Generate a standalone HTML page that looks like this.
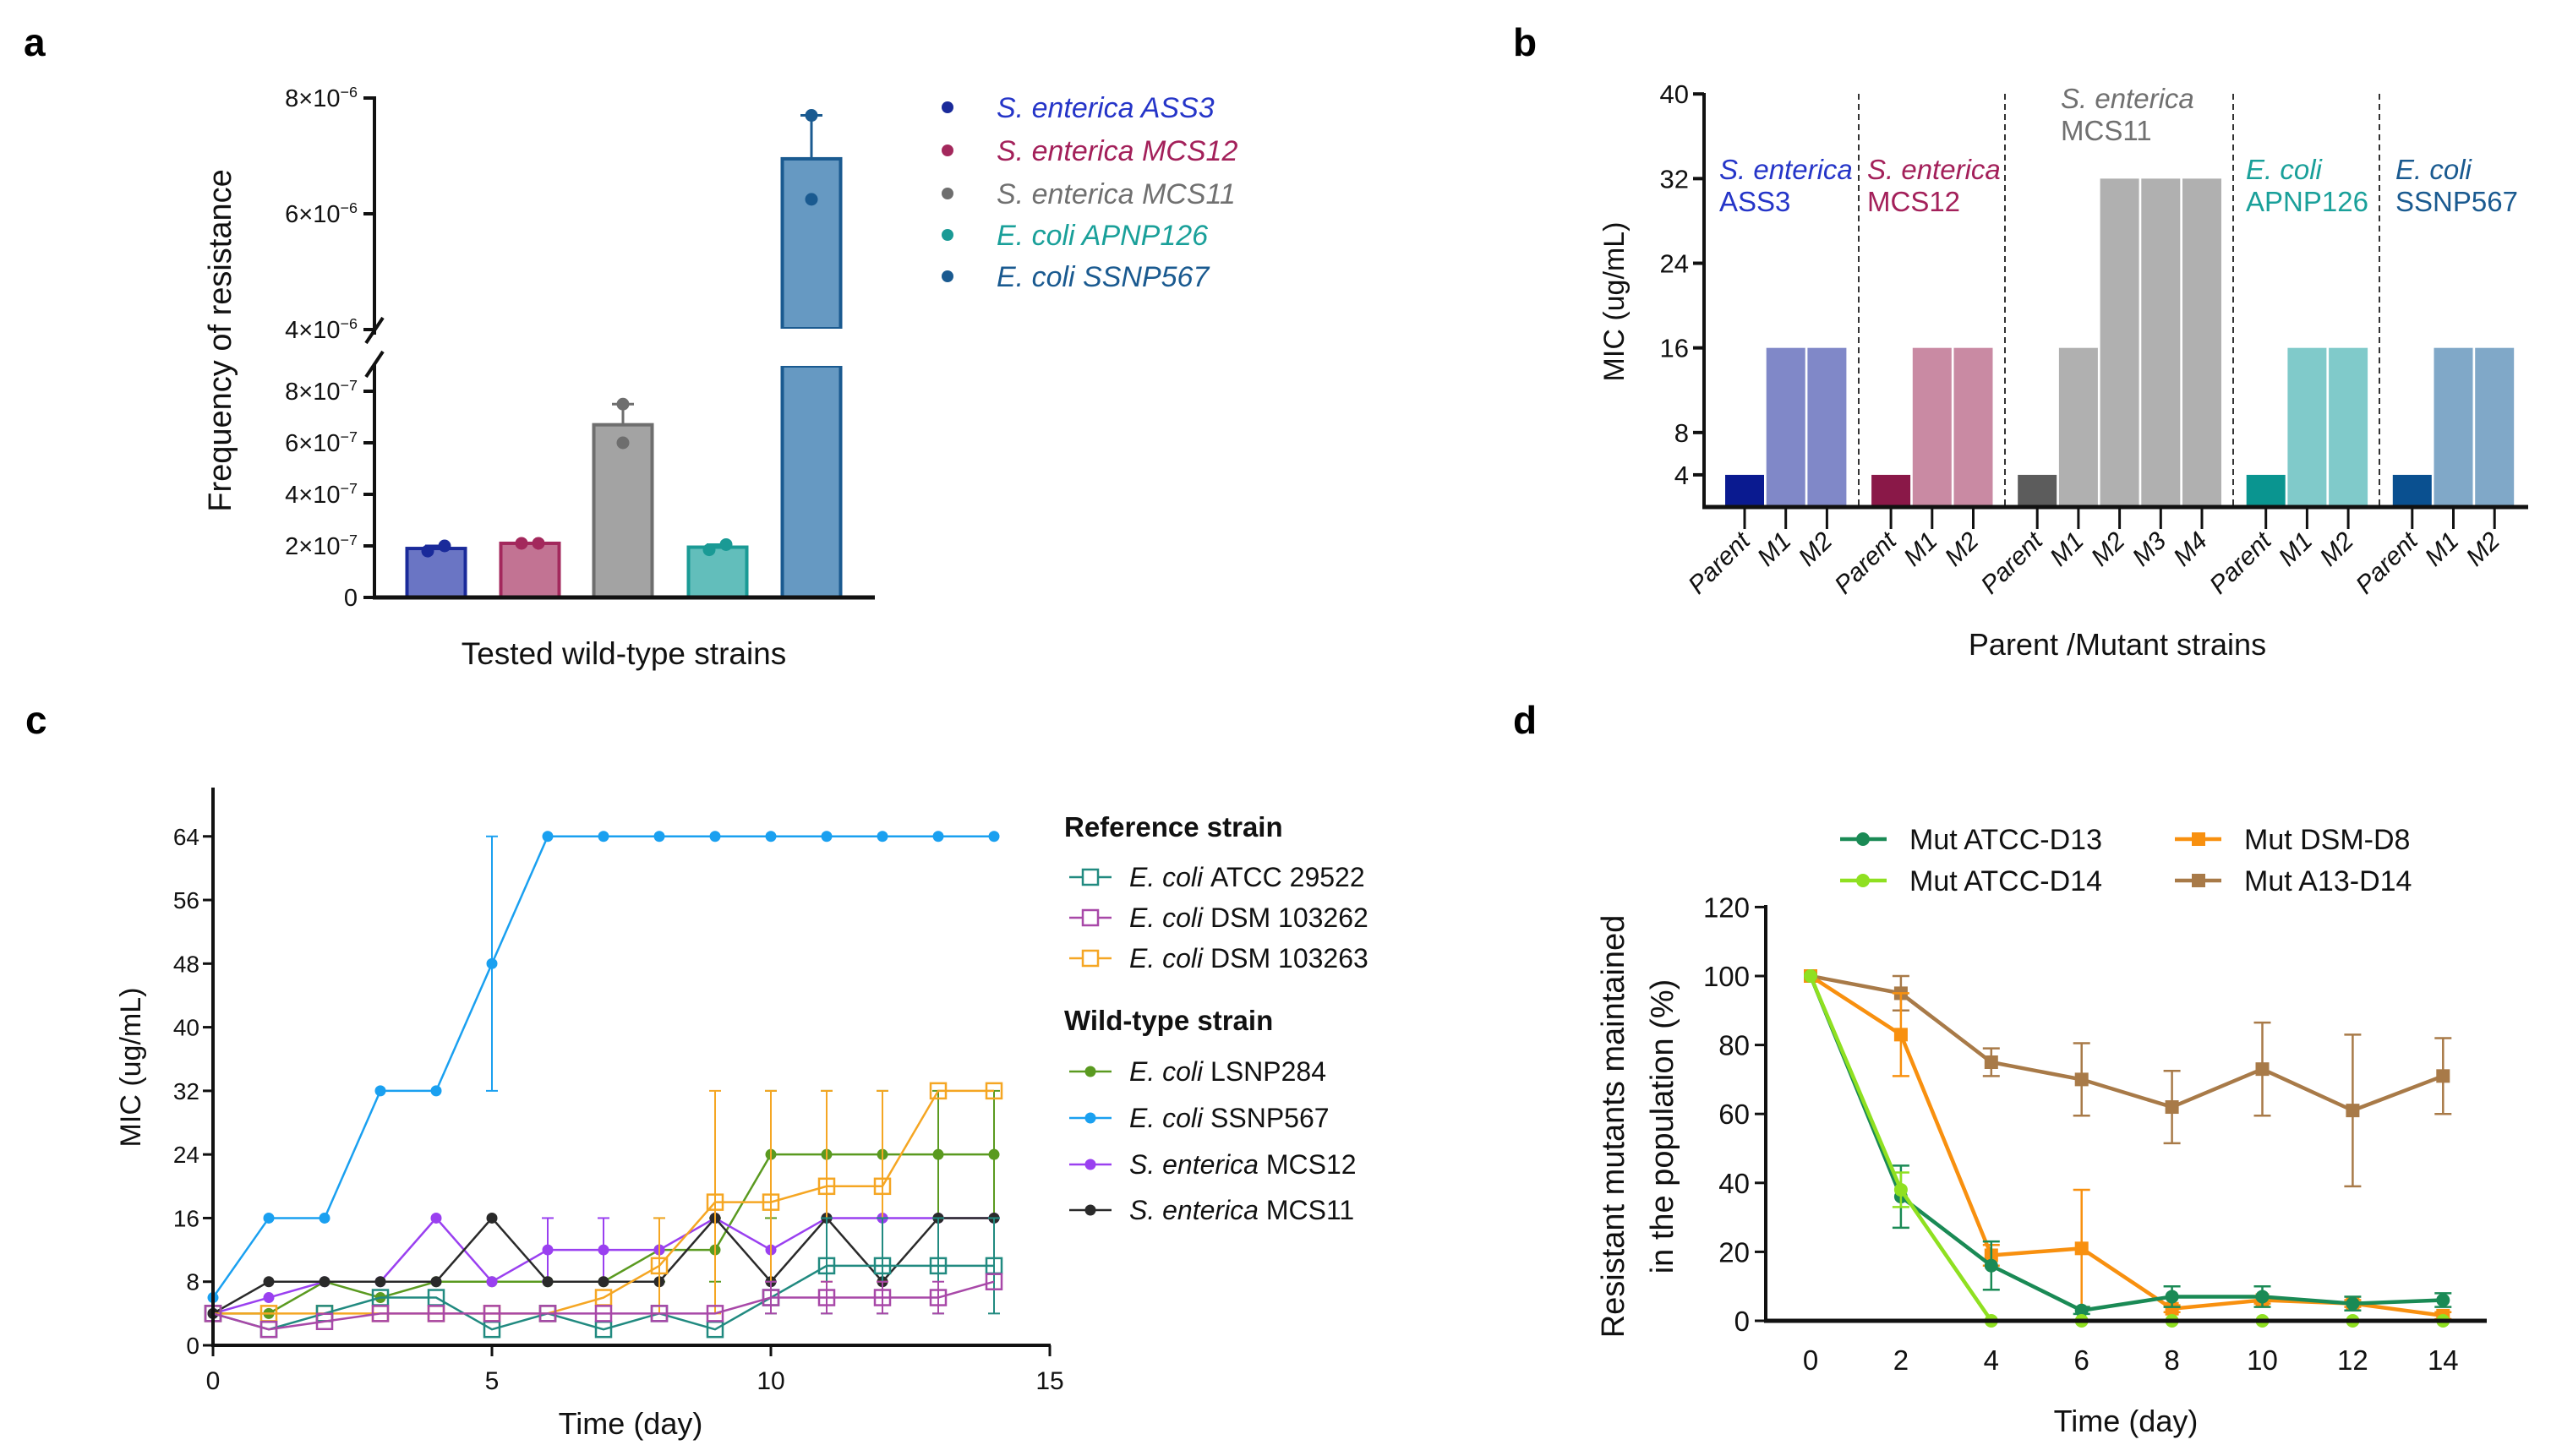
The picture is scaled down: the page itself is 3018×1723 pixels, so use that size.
<!DOCTYPE html>
<html><head><meta charset="utf-8"><style>
html,body{margin:0;padding:0;background:#fff}
svg{display:block;font-family:"Liberation Sans Narrow","Liberation Sans",sans-serif}
</style></head><body>
<svg id="fig" xmlns="http://www.w3.org/2000/svg" width="3018" height="1723" viewBox="0 0 3018 1723">
<rect x="0" y="0" width="3018" height="1723" fill="#fff"/>
<text x="28" y="66" font-size="46" font-weight="bold" font-family="Liberation Sans, sans-serif">a</text>
<text x="1790" y="66" font-size="46" font-weight="bold" font-family="Liberation Sans, sans-serif">b</text>
<text x="30" y="868" font-size="46" font-weight="bold" font-family="Liberation Sans, sans-serif">c</text>
<text x="1790" y="868" font-size="46" font-weight="bold" font-family="Liberation Sans, sans-serif">d</text>
<g id="pa"></g>
<g id="pb"></g>
<g id="pc"></g>
<g id="pd"></g>
</svg>
<script>
// ===== Panel a data =====
const aStrains = ["S. enterica ASS3","S. enterica MCS12","S. enterica MCS11","E. coli APNP126","E. coli SSNP567"];
const aMeans = [1.9e-7, 2.1e-7, 6.7e-7, 1.95e-7, 6.95e-6];
const aPoints1 = [1.8e-7, 2.1e-7, 7.5e-7, 1.85e-7, 7.7e-6];
const aPoints2 = [2.0e-7, 2.1e-7, 6.0e-7, 2.05e-7, 6.25e-6];
const aLowTicks = [0, 2e-7, 4e-7, 6e-7, 8e-7];
const aLowTickLabels = ["0","2×10|−7","4×10|−7","6×10|−7","8×10|−7"];
const aHighTicks = [4e-6, 6e-6, 8e-6];
const aHighTickLabels = ["4×10|−6","6×10|−6","8×10|−6"];
// ===== Panel b data =====
const bGroups = ["S. enterica|ASS3","S. enterica|MCS12","S. enterica|MCS11","E. coli|APNP126","E. coli|SSNP567"];
const bBarLabels = [["Parent","M1","M2"],["Parent","M1","M2"],["Parent","M1","M2","M3","M4"],["Parent","M1","M2"],["Parent","M1","M2"]];
const bValues = [[4,16,16],[4,16,16],[4,16,32,32,32],[4,16,16],[4,16,16]];
const bTicks = [4,8,16,24,32,40];
// ===== Panel c data =====
const cDays = [0,1,2,3,4,5,6,7,8,9,10,11,12,13,14];
const cNames = ["E. coli|ATCC 29522","E. coli|DSM 103262","E. coli|DSM 103263","E. coli|LSNP284","E. coli|SSNP567","S. enterica|MCS12","S. enterica|MCS11"];
const cATCC = [4,2,4,6,6,2,4,2,4,2,6,10,10,10,10];
const cDSM262 = [4,2,3,4,4,4,4,4,4,4,6,6,6,6,8];
const cDSM263 = [4,4,4,4,4,4,4,6,10,18,18,20,20,32,32];
const cLSNP = [4,4,8,6,8,8,8,8,12,12,24,24,24,24,24];
const cSSNP = [6,16,16,32,32,48,64,64,64,64,64,64,64,64,64];
const cMCS12 = [4,6,8,8,16,8,12,12,12,16,12,16,16,16,16];
const cMCS11 = [4,8,8,8,8,16,8,8,8,16,8,16,8,16,16];
const cATCCLo = [4,2,4,6,6,2,4,2,4,2,4,4,4,4,4];
const cATCCHi = [4,2,4,6,6,2,4,2,4,2,8,16,16,16,16];
const cDSM262Lo = [4,2,3,4,4,4,4,4,4,4,4,4,4,4,8];
const cDSM262Hi = [4,2,3,4,4,4,4,4,4,4,8,8,8,8,8];
const cDSM263Lo = [4,4,4,4,4,4,4,6,4,4,8,8,8,32,32];
const cDSM263Hi = [4,4,4,4,4,4,4,6,16,32,32,32,32,32,32];
const cLSNPLo = [4,4,8,6,8,8,8,8,8,8,16,16,16,16,16];
const cLSNPHi = [4,4,8,6,8,8,8,8,16,16,32,32,32,32,32];
const cSSNPLo = [6,16,16,32,32,32,64,64,64,64,64,64,64,64,64];
const cSSNPHi = [6,16,16,32,32,64,64,64,64,64,64,64,64,64,64];
const cMCS12Lo = [4,6,8,8,16,8,8,8,12,16,12,16,16,16,16];
const cMCS12Hi = [4,6,8,8,16,8,16,16,12,16,12,16,16,16,16];
const cXTicks = [0,5,10,15];
const cYTicks = [0,8,16,24,32,40,48,56,64];
// ===== Panel d data =====
const dDays = [0,2,4,6,8,10,12,14];
const dNames = ["Mut ATCC-D13","Mut ATCC-D14","Mut DSM-D8","Mut A13-D14"];
const dD13 = [100,36,16,3,7,7,5,6];
const dD13Err = [0,9,7,1,3,3,2,2];
const dD14 = [100,38,0,0,0,0,0,0];
const dD14Err = [0,5,0,0,0,0,0,0];
const dDSM = [100,83,19,21,3.5,6,5,1.5];
const dDSMErr = [0,12,3,17,1,1,1,1];
const dA13 = [100,95,75,70,62,73,61,71];
const dA13Err = [0,5,4,10.5,10.5,13.5,22,11];
const dXTicks = [0,2,4,6,8,10,12,14];
const dYTicks = [0,20,40,60,80,100,120];

const NS = "http://www.w3.org/2000/svg";
function mk(parent, tag, attrs, text) {
  const el = document.createElementNS(NS, tag);
  for (const k in attrs) el.setAttribute(k, attrs[k]);
  if (text !== undefined) el.textContent = text;
  parent.appendChild(el);
  return el;
}
function sciLabel(g, x, y, lab, size) {
  const parts = lab.split("|");
  const t = mk(g, "text", {x: x, y: y, "font-size": size, "text-anchor": "end", fill: "#111"});
  
  
  const s1 = mk(t, "tspan", {}, parts[0]);
  if (parts[1]) {
    mk(t, "tspan", {dy: -11, "font-size": size * 0.62}, parts[1]);
  }
  return t;
}

// ================= PANEL A =================
(function(){
  const g = document.getElementById("pa");
  const ax = 443, base = 707;
  function ya(v){ return v <= 1.5e-6 ? base - v / 2e-7 * 61 : 253 - (v - 6e-6) / 2e-6 * 137; }
  const xs = [516, 627, 737, 849, 960];
  const fills = ["#6a75c4","#c27393","#a3a3a3","#62bebb","#6699c2"];
  const strokes = ["#1a2a9a","#a3285c","#6e6e6e","#1a9a95","#1a5a90"];
  const bw = 69;
  // axes
  let e = mk(g, "line", {x1: ax, y1: 114, x2: ax, y2: 396, stroke: "#111", "stroke-width": 4});
  
  
  e = mk(g, "line", {x1: ax, y1: 430, x2: ax, y2: base, stroke: "#111", "stroke-width": 4});
  
  
  e = mk(g, "line", {x1: 433, y1: 406, x2: 453, y2: 376, stroke: "#111", "stroke-width": 4});
  
  
  e = mk(g, "line", {x1: 433, y1: 446, x2: 453, y2: 416, stroke: "#111", "stroke-width": 4});
  
  
  aLowTicks.forEach((v, i) => {
    const y = ya(v);
    const t = mk(g, "line", {x1: ax - 13, y1: y, x2: ax, y2: y, stroke: "#111", "stroke-width": 4});
    
    
    sciLabel(g, ax - 20, y + 10, aLowTickLabels[i], 29);
  });
  aHighTicks.forEach((v, i) => {
    const y = ya(v);
    const t = mk(g, "line", {x1: ax - 13, y1: y, x2: ax, y2: y, stroke: "#111", "stroke-width": 4});
    
    
    sciLabel(g, ax - 20, y + 10, aHighTickLabels[i], 29);
  });
  // bars
  aMeans.forEach((v, i) => {
    const x = xs[i] - bw / 2;
    if (v > 1.5e-6) {
      const r1 = mk(g, "rect", {x: x, y: 433, width: bw, height: base - 433, fill: fills[i], stroke: strokes[i], "stroke-width": 4});
      
      
      const r2 = mk(g, "rect", {x: x, y: ya(v), width: bw, height: 389 - ya(v), fill: fills[i], stroke: strokes[i], "stroke-width": 4});
      
      
      const cv = mk(g, "rect", {x: x - 4, y: 389, width: bw + 8, height: 44, fill: "#fff"});
      
      
    } else {
      const r = mk(g, "rect", {x: x, y: ya(v), width: bw, height: base - ya(v), fill: fills[i], stroke: strokes[i], "stroke-width": 4});
      
      
    }
    const hi = Math.max(aPoints1[i], aPoints2[i]);
    const eb = mk(g, "line", {x1: xs[i], y1: ya(v), x2: xs[i], y2: ya(hi), stroke: strokes[i], "stroke-width": 3});
    
    
    const cap = mk(g, "line", {x1: xs[i] - 13, y1: ya(hi), x2: xs[i] + 13, y2: ya(hi), stroke: strokes[i], "stroke-width": 3});
    
    
    [aPoints1[i], aPoints2[i]].forEach((p, k) => {
      const c = mk(g, "circle", {cx: xs[i] + (k ? 10 : -10) * (v < 1e-6 && i !== 2 ? 1 : 0), cy: ya(p), r: 7.5, fill: strokes[i]});
      
      
    });
  });
  e = mk(g, "line", {x1: ax - 2, y1: base, x2: 1035, y2: base, stroke: "#111", "stroke-width": 5});
  
  
  e = mk(g, "text", {x: 0, y: 0, transform: "translate(273,403) rotate(-90)", "font-size": 38, "text-anchor": "middle", "font-family": "Liberation Sans, sans-serif", fill: "#111"}, "Frequency of resistance");
  
  
  e = mk(g, "text", {x: 738, y: 786, "font-size": 37, "text-anchor": "middle", fill: "#111"}, "Tested wild-type strains");
  
  
  const legCols = ["#1a2a9a","#a3285c","#6e6e6e","#1a9a95","#1a5a90"];
  const legText = ["#2535c8","#a3205a","#707070","#1aa09a","#1a5a90"];
  const legY = [127, 178, 229, 278, 327];
  aStrains.forEach((s, i) => {
    const c = mk(g, "circle", {cx: 1121, cy: legY[i], r: 7, fill: legCols[i]});
    
    
    const t = mk(g, "text", {x: 1179, y: legY[i] + 12, "font-size": 34, "font-style": "italic", fill: legText[i]}, s);
    
    
  });
})();

// ================= PANEL B =================
(function(){
  const g = document.getElementById("pb");
  const ax = 2016, base = 600;
  function yb(v){ return 612 - v * 12.52; }
  const parentCols = ["#0a1a90","#8a1848","#5c5c5c","#0a9590","#0a5090"];
  const mutCols = ["#8088c8","#c98aa3","#b0b0b0","#80caca","#80a8c8"];
  const labCols = ["#2535c8","#a3205a","#707070","#1aa09a","#1a5a90"];
  const labX = [2034, 2209, 2438, 2657, 2834];
  const labY = [212, 212, 128, 212, 212];
  const dashX = [2199, 2372, 2642, 2815];
  let idx = 0;
  bValues.forEach((vals, gi) => {
    vals.forEach((v, j) => {
      const cx = 2064 + idx * 48.7 + gi * 27;
      const r = mk(g, "rect", {x: cx - 23, y: yb(v), width: 46, height: base - yb(v), fill: j === 0 ? parentCols[gi] : mutCols[gi]});
      
      
      const tk = mk(g, "line", {x1: cx, y1: base, x2: cx, y2: 626, stroke: "#111", "stroke-width": 3});
      
      
      const tl = mk(g, "text", {x: 0, y: 0, transform: "translate(" + (cx + 8) + ",642) rotate(-45)", "font-size": 30, "font-style": "italic", "text-anchor": "end", fill: "#111"}, bBarLabels[gi][j]);
      
      
      idx++;
    });
    const parts = bGroups[gi].split("|");
    const t1 = mk(g, "text", {x: labX[gi], y: labY[gi], "font-size": 33, "font-style": "italic", fill: labCols[gi]}, parts[0]);
    
    
    const t2 = mk(g, "text", {x: labX[gi], y: labY[gi] + 38, "font-size": 33, fill: labCols[gi]}, parts[1]);
    
    
  });
  dashX.forEach(x => {
    const d = mk(g, "line", {x1: x, y1: 111, x2: x, y2: base, stroke: "#333", "stroke-width": 2, "stroke-dasharray": "7,5"});
    
    
  });
  let e = mk(g, "line", {x1: ax, y1: 110, x2: ax, y2: base, stroke: "#111", "stroke-width": 4});
  
  
  e = mk(g, "line", {x1: ax - 2, y1: base, x2: 2991, y2: base, stroke: "#111", "stroke-width": 5});
  
  
  bTicks.forEach(v => {
    const y = yb(v);
    const t = mk(g, "line", {x1: ax - 13, y1: y, x2: ax, y2: y, stroke: "#111", "stroke-width": 4});
    
    
    const l = mk(g, "text", {x: ax - 18, y: y + 11, "font-size": 31, "text-anchor": "end", fill: "#111"}, String(v));
    
    
  });
  e = mk(g, "text", {x: 0, y: 0, transform: "translate(1921,357) rotate(-90)", "font-size": 34, "text-anchor": "middle", "font-family": "Liberation Sans, sans-serif", fill: "#111"}, "MIC (ug/mL)");
  
  
  e = mk(g, "text", {x: 2505, y: 775, "font-size": 36, "text-anchor": "middle", fill: "#111"}, "Parent /Mutant strains");
  
  
})();

// ================= PANEL C =================
(function(){
  const g = document.getElementById("pc");
  function xc(d){ return 252 + d * 66; }
  function yc(v){ return 1592 - v * 9.41; }
  const series = [
    {name: cNames[0], v: cATCC, lo: cATCCLo, hi: cATCCHi, col: "#218a80", sq: true},
    {name: cNames[1], v: cDSM262, lo: cDSM262Lo, hi: cDSM262Hi, col: "#a848a8", sq: true},
    {name: cNames[2], v: cDSM263, lo: cDSM263Lo, hi: cDSM263Hi, col: "#f5a623", sq: true},
    {name: cNames[3], v: cLSNP, lo: cLSNPLo, hi: cLSNPHi, col: "#5a9a20", sq: false},
    {name: cNames[4], v: cSSNP, lo: cSSNPLo, hi: cSSNPHi, col: "#1aa0f0", sq: false},
    {name: cNames[5], v: cMCS12, lo: cMCS12Lo, hi: cMCS12Hi, col: "#9a40f0", sq: false},
    {name: cNames[6], v: cMCS11, lo: cMCS11, hi: cMCS11, col: "#2a2a2a", sq: false}
  ];
  const order = [4,3,5,6,2,0,1];
  order.forEach(si => {
    const s = series[si];
    cDays.forEach((d, i) => {
      if (s.hi[i] !== s.lo[i]) {
        const eb = mk(g, "line", {x1: xc(d), y1: yc(s.lo[i]), x2: xc(d), y2: yc(s.hi[i]), stroke: s.col, "stroke-width": 2});
        
        
        [s.lo[i], s.hi[i]].forEach(b => {
          const cp = mk(g, "line", {x1: xc(d) - 7, y1: yc(b), x2: xc(d) + 7, y2: yc(b), stroke: s.col, "stroke-width": 2});
          
          
        });
      }
    });
    const pts = cDays.map((d, i) => xc(d) + "," + yc(s.v[i])).join(" ");
    const pl = mk(g, "polyline", {points: pts, fill: "none", stroke: s.col, "stroke-width": 2.5});
    
    
    cDays.forEach((d, i) => {
      let m;
      if (s.sq) {
        m = mk(g, "rect", {x: xc(d) - 9, y: yc(s.v[i]) - 9, width: 18, height: 18, fill: "none", stroke: s.col, "stroke-width": 2.5});
      } else {
        m = mk(g, "circle", {cx: xc(d), cy: yc(s.v[i]), r: 6.5, fill: s.col});
      }
      
      
    });
  });
  let e = mk(g, "line", {x1: 252, y1: 932, x2: 252, y2: 1594, stroke: "#111", "stroke-width": 4});
  
  
  e = mk(g, "line", {x1: 250, y1: 1592, x2: 1243, y2: 1592, stroke: "#111", "stroke-width": 4});
  
  
  cYTicks.forEach(v => {
    const t = mk(g, "line", {x1: 240, y1: yc(v), x2: 252, y2: yc(v), stroke: "#111", "stroke-width": 3});
    
    
    const l = mk(g, "text", {x: 236, y: yc(v) + 10, "font-size": 28, "text-anchor": "end", fill: "#111"}, String(v));
    
    
  });
  cXTicks.forEach(v => {
    const t = mk(g, "line", {x1: xc(v), y1: 1592, x2: xc(v), y2: 1605, stroke: "#111", "stroke-width": 3});
    
    
    const l = mk(g, "text", {x: xc(v), y: 1644, "font-size": 30, "text-anchor": "middle", fill: "#111"}, String(v));
    
    
  });
  e = mk(g, "text", {x: 0, y: 0, transform: "translate(166,1263) rotate(-90)", "font-size": 34, "text-anchor": "middle", "font-family": "Liberation Sans, sans-serif", fill: "#111"}, "MIC (ug/mL)");
  
  
  e = mk(g, "text", {x: 746, y: 1697, "font-size": 36, "text-anchor": "middle", fill: "#111"}, "Time (day)");
  
  
  e = mk(g, "text", {x: 1259, y: 990, "font-size": 33, "font-weight": "bold", fill: "#111"}, "Reference strain");
  
  
  e = mk(g, "text", {x: 1259, y: 1219, "font-size": 33, "font-weight": "bold", fill: "#111"}, "Wild-type strain");
  
  
  const legY = [1038, 1086, 1134, 1268, 1323, 1378, 1432];
  series.forEach((s, i) => {
    const y = legY[i];
    const ln = mk(g, "line", {x1: 1265, y1: y, x2: 1315, y2: y, stroke: s.col, "stroke-width": 2.5});
    
    
    let m;
    if (s.sq) {
      m = mk(g, "rect", {x: 1281, y: y - 9, width: 18, height: 18, fill: "#fff", stroke: s.col, "stroke-width": 2.5});
    } else {
      m = mk(g, "circle", {cx: 1290, cy: y, r: 6.5, fill: s.col});
    }
    
    
    const p = s.name.split("|");
    const t = mk(g, "text", {x: 1336, y: y + 11, "font-size": 32, fill: "#111"});
    
    
    mk(t, "tspan", {"font-style": "italic"}, p[0] + " ");
    mk(t, "tspan", {}, p[1]);
  });
})();

// ================= PANEL D =================
(function(){
  const g = document.getElementById("pd");
  function xd(d){ return 2142 + d / 2 * 106.9; }
  function yd(v){ return 1563 - v * 4.08; }
  const series = [
    {v: dA13, err: dA13Err, col: "#a87a48", sq: true},
    {v: dDSM, err: dDSMErr, col: "#f8900f", sq: true},
    {v: dD13, err: dD13Err, col: "#1a8a55", sq: false},
    {v: dD14, err: dD14Err, col: "#8fe021", sq: false}
  ];
  series.forEach(s => {
    dDays.forEach((d, i) => {
      if (s.err[i] > 0) {
        const lo = Math.max(0, s.v[i] - s.err[i]), hi = s.v[i] + s.err[i];
        const eb = mk(g, "line", {x1: xd(d), y1: yd(lo), x2: xd(d), y2: yd(hi), stroke: s.col, "stroke-width": 2.5});
        
        
        [lo, hi].forEach(b => {
          const cp = mk(g, "line", {x1: xd(d) - 10, y1: yd(b), x2: xd(d) + 10, y2: yd(b), stroke: s.col, "stroke-width": 2.5});
          
          
        });
      }
    });
    const pts = dDays.map((d, i) => xd(d) + "," + yd(s.v[i])).join(" ");
    const pl = mk(g, "polyline", {points: pts, fill: "none", stroke: s.col, "stroke-width": 4.5});
    
    
    dDays.forEach((d, i) => {
      let m;
      if (s.sq) {
        m = mk(g, "rect", {x: xd(d) - 8, y: yd(s.v[i]) - 8, width: 16, height: 16, fill: s.col});
      } else {
        m = mk(g, "circle", {cx: xd(d), cy: yd(s.v[i]), r: 8, fill: s.col});
      }
      
      
    });
  });
  let e = mk(g, "line", {x1: 2089, y1: 1071, x2: 2089, y2: 1565, stroke: "#111", "stroke-width": 4});
  
  
  e = mk(g, "line", {x1: 2087, y1: 1563, x2: 2942, y2: 1563, stroke: "#111", "stroke-width": 5});
  
  
  dYTicks.forEach(v => {
    const t = mk(g, "line", {x1: 2076, y1: yd(v), x2: 2089, y2: yd(v), stroke: "#111", "stroke-width": 3});
    
    
    const l = mk(g, "text", {x: 2070, y: yd(v) + 12, "font-size": 33, "text-anchor": "end", fill: "#111"}, String(v));
    
    
  });
  dXTicks.forEach(v => {
    const l = mk(g, "text", {x: xd(v), y: 1621, "font-size": 33, "text-anchor": "middle", fill: "#111"}, String(v));
    
    
  });
  e = mk(g, "text", {x: 0, y: 0, transform: "translate(1921,1333) rotate(-90)", "font-size": 38, "text-anchor": "middle", "font-family": "Liberation Sans, sans-serif", fill: "#111"}, "Resistant mutants maintained");
  
  
  e = mk(g, "text", {x: 0, y: 0, transform: "translate(1979,1333) rotate(-90)", "font-size": 38, "text-anchor": "middle", "font-family": "Liberation Sans, sans-serif", fill: "#111"}, "in the population (%)");
  
  
  e = mk(g, "text", {x: 2515, y: 1694, "font-size": 36, "text-anchor": "middle", fill: "#111"}, "Time (day)");
  
  
  const legCols = ["#1a8a55","#8fe021","#f8900f","#a87a48"];
  const legSq = [false,false,true,true];
  const legX = [2177, 2177, 2573, 2573];
  const legY = [993, 1042, 993, 1042];
  dNames.forEach((n, i) => {
    const ln = mk(g, "line", {x1: legX[i], y1: legY[i], x2: legX[i] + 55, y2: legY[i], stroke: legCols[i], "stroke-width": 4.5});
    
    
    let m;
    if (legSq[i]) {
      m = mk(g, "rect", {x: legX[i] + 20, y: legY[i] - 8, width: 16, height: 16, fill: legCols[i]});
    } else {
      m = mk(g, "circle", {cx: legX[i] + 27, cy: legY[i], r: 8, fill: legCols[i]});
    }
    
    
    const t = mk(g, "text", {x: legX[i] + 82, y: legY[i] + 12, "font-size": 34, fill: "#111"}, n);
    
    
  });
})();
</script>
</body></html>
